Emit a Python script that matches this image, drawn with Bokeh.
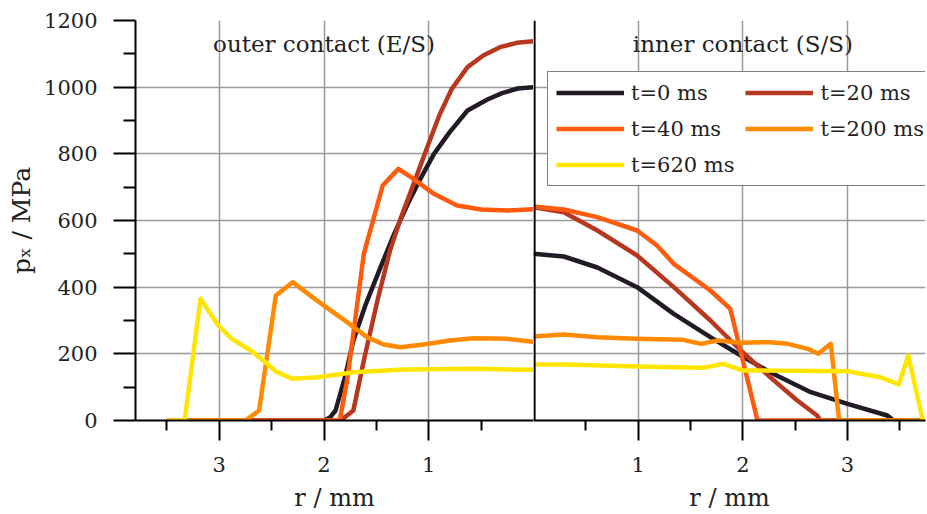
from bokeh.plotting import figure
from bokeh.layouts import row
from bokeh.models import FixedTicker, Span, Label, Legend, LegendItem, Range1d
from bokeh.embed import file_html
from bokeh.resources import INLINE

# ---- data -------------------------------------------------------------
series_labels = ["t=0 ms", "t=20 ms", "t=40 ms", "t=200 ms", "t=620 ms"]
series_colors = ["#221a24", "#b8381f", "#ff5b0f", "#ff8a00", "#ffe500"]

# outer contact (E/S): r / mm, p_x / MPa
t0_outer_r = [3.5, 2.0, 1.94, 1.89, 1.80, 1.72, 1.60, 1.46, 1.33, 1.20, 1.08, 0.95, 0.80, 0.63, 0.44, 0.30, 0.15, 0.0]
t0_outer_p = [0, 0, 10, 30, 130, 240, 350, 460, 560, 650, 725, 800, 865, 930, 963, 982, 996, 1000]
t20_outer_r = [3.5, 1.84, 1.72, 1.62, 1.49, 1.37, 1.27, 1.18, 1.02, 0.90, 0.78, 0.63, 0.48, 0.32, 0.16, 0.0]
t20_outer_p = [0, 0, 30, 180, 360, 510, 605, 680, 815, 915, 995, 1060, 1095, 1120, 1133, 1138]
t40_outer_r = [3.5, 1.85, 1.78, 1.72, 1.62, 1.44, 1.29, 1.17, 0.95, 0.73, 0.50, 0.25, 0.0]
t40_outer_p = [0, 0, 120, 260, 500, 705, 755, 730, 680, 645, 633, 630, 634]
t200_outer_r = [3.5, 2.75, 2.62, 2.46, 2.30, 2.06, 1.78, 1.59, 1.43, 1.27, 1.05, 0.80, 0.57, 0.25, 0.0]
t200_outer_p = [0, 0, 30, 375, 415, 358, 295, 250, 228, 220, 228, 240, 247, 245, 236]
t620_outer_r = [3.5, 3.33, 3.18, 3.01, 2.88, 2.70, 2.58, 2.45, 2.30, 2.06, 1.87, 1.72, 1.24, 0.57, 0.0]
t620_outer_p = [0, 0, 365, 285, 245, 210, 180, 145, 125, 130, 138, 145, 153, 155, 152]

# inner contact (S/S): r / mm, p_x / MPa
t0_inner_r = [0.0, 0.29, 0.61, 0.99, 1.34, 1.69, 1.98, 2.26, 2.65, 3.0, 3.38, 3.44, 3.72]
t0_inner_p = [500, 492, 459, 400, 320, 250, 195, 145, 85, 50, 15, 0, 0]
t20_inner_r = [0.0, 0.29, 0.61, 0.99, 1.34, 1.69, 1.98, 2.26, 2.52, 2.71, 2.74, 3.72]
t20_inner_p = [640, 625, 570, 495, 400, 300, 210, 130, 60, 15, 0, 0]
t40_inner_r = [0.0, 0.29, 0.61, 0.99, 1.18, 1.34, 1.69, 1.88, 2.14, 3.72]
t40_inner_p = [642, 633, 610, 570, 525, 470, 390, 335, 0, 0]
t200_inner_r = [0.0, 0.29, 0.61, 0.99, 1.43, 1.60, 1.76, 1.98, 2.26, 2.43, 2.62, 2.72, 2.84, 2.92, 3.72]
t200_inner_p = [252, 258, 250, 245, 242, 230, 240, 233, 235, 230, 215, 200, 230, 0, 0]
t620_inner_r = [0.0, 0.29, 0.99, 1.62, 1.81, 2.0, 2.04, 3.0, 3.31, 3.49, 3.58, 3.72]
t620_inner_p = [168, 168, 162, 158, 170, 150, 150, 148, 130, 108, 195, 0]

x_tick_positions = [1, 2, 3]
x_minor_positions = [0.5, 1.5, 2.5, 3.5]
y_tick_positions = [0, 200, 400, 600, 800, 1000, 1200]
y_minor_positions = [100, 300, 500, 700, 900, 1100]
y_grid_positions = [200, 400, 600, 800, 1000]

outer_r = [t0_outer_r, t20_outer_r, t40_outer_r, t200_outer_r, t620_outer_r]
outer_p = [t0_outer_p, t20_outer_p, t40_outer_p, t200_outer_p, t620_outer_p]
inner_r = [t0_inner_r, t20_inner_r, t40_inner_r, t200_inner_r, t620_inner_r]
inner_p = [t0_inner_p, t20_inner_p, t40_inner_p, t200_inner_p, t620_inner_p]

# ---- styling helpers --------------------------------------------------
FONT = "DejaVu Serif"
TXT = "#222222"


def style_axis(ax, tick_out, minor_out, standoff, label_size):
    ax.axis_line_color = "black"
    ax.axis_line_width = 2
    ax.major_tick_line_color = "black"
    ax.major_tick_line_width = 2
    ax.minor_tick_line_color = "black"
    ax.minor_tick_line_width = 2
    ax.major_tick_in = 0
    ax.minor_tick_in = 0
    ax.major_tick_out = tick_out
    ax.minor_tick_out = minor_out
    ax.major_label_standoff = standoff
    ax.major_label_text_font = FONT
    ax.major_label_text_font_size = "21px"
    ax.major_label_text_color = TXT
    ax.axis_label_text_font = FONT
    ax.axis_label_text_font_size = label_size
    ax.axis_label_text_font_style = "normal"
    ax.axis_label_text_color = TXT


def make_half(width, x_range, border_left, border_right):
    f = figure(width=width, height=514, x_range=x_range, y_range=Range1d(0, 1200),
               output_backend="svg", toolbar_location=None,
               min_border_left=border_left, min_border_right=border_right,
               min_border_top=20, min_border_bottom=94)
    f.outline_line_color = None
    f.background_fill_color = "white"
    xa = f.xaxis[0]
    xa.ticker = FixedTicker(ticks=x_tick_positions, minor_ticks=x_minor_positions)
    xa.axis_label = "r / mm"
    xa.axis_label_standoff = 9
    style_axis(xa, 20, 10, 16, "24px")
    f.xgrid.ticker = FixedTicker(ticks=x_tick_positions)
    f.ygrid.ticker = FixedTicker(ticks=y_grid_positions)
    for g in (f.xgrid[0], f.ygrid[0]):
        g.grid_line_color = "#9a9a9a"
        g.grid_line_width = 1.5
    return f


# left half: outer contact, r increasing to the left
p_out = make_half(533, Range1d(3.8, 0.0), 135, 0)
ya = p_out.yaxis[0]
ya.ticker = FixedTicker(ticks=y_tick_positions, minor_ticks=y_minor_positions)
ya.axis_label = "p\u2093 / MPa"
ya.axis_label_standoff = 5
style_axis(ya, 22, 12, 16, "25px")

# right half: inner contact
p_in = make_half(394, Range1d(0.0, 3.745), 0, 2)
p_in.yaxis.visible = False

items = []
for lab, col, ro, po, ri, pi in zip(series_labels, series_colors, outer_r, outer_p, inner_r, inner_p):
    r1 = p_out.line(ro, po, line_color=col, line_width=4.5, line_join="round")
    r2 = p_in.line(ri, pi, line_color=col, line_width=4.5, line_join="round")
    items.append(LegendItem(label=lab, renderers=[r2]))

# center divider at r = 0, drawn just inside the inner panel
p_in.add_layout(Span(location=0.0096, dimension="height", line_color="black", line_width=2.2))

# region labels
p_out.add_layout(Label(x=2.0, y=1130, text="outer contact (E/S)", text_align="center",
                       text_baseline="middle", text_font=FONT, text_font_size="23px", text_color=TXT))
p_in.add_layout(Label(x=2.0, y=1130, text="inner contact (S/S)", text_align="center",
                      text_baseline="middle", text_font=FONT, text_font_size="23px", text_color=TXT))

legend = Legend(items=items, location=(14, 234), orientation="horizontal", ncols=2,
                glyph_width=68, glyph_height=25, label_height=25, label_standoff=7,
                spacing=11, padding=8, margin=0,
                label_text_font=FONT, label_text_font_size="21px", label_text_color=TXT,
                border_line_color="black", border_line_width=1.5,
                background_fill_color="white", background_fill_alpha=1.0)
p_in.add_layout(legend)

layout = row(p_out, p_in, spacing=0)
open("out.html", "w").write(file_html(layout, INLINE))
